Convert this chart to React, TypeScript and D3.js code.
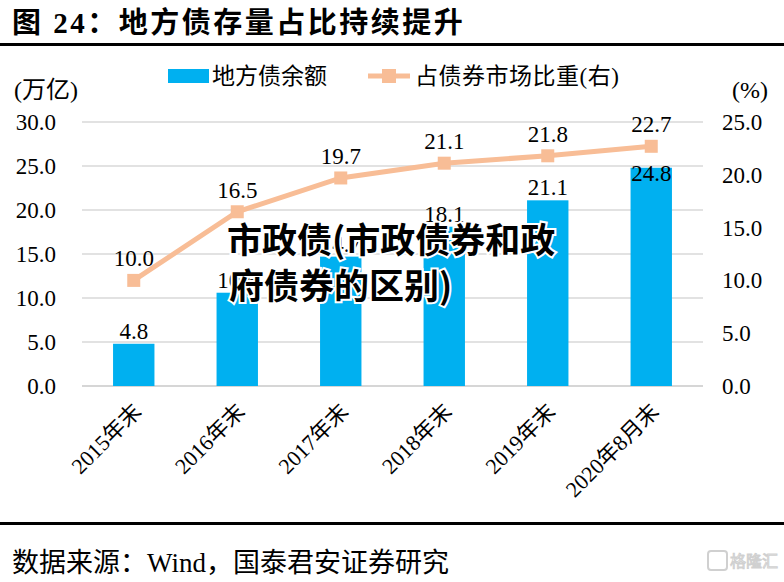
import * as d3 from "d3";
import React from "react";

const categories = ["2015年末", "2016年末", "2017年末", "2018年末", "2019年末", "2020年8月末"];
const balance = [4.8, 10.6, 14.7, 18.1, 21.1, 24.8];
const share = [10.0, 16.5, 19.7, 21.1, 21.8, 22.7];
const leftTicks = [0, 5, 10, 15, 20, 25, 30];
const rightTicks = [0, 5, 10, 15, 20, 25];

const BLUE = "#00B0F0";
const ORANGE = "#F8BD96";
const GRID = "#D9D9D9";
const SERIF = "'Liberation Serif', 'Noto Sans CJK SC', serif";

function App() {
    const x = d3.scaleBand<string>().domain(categories).range([82, 703]).paddingInner(0.6).paddingOuter(0.3);
    const yL = d3.scaleLinear().domain([0, 30]).range([386, 122]);
    const yR = d3.scaleLinear().domain([0, 25]).range([386, 122]);
    const cx = (c: string) => (x(c) ?? 0) + x.bandwidth() / 2;
    const fmt = d3.format(".1f");

    const line = d3.line<number>()
        .x((d, i) => cx(categories[i]))
        .y((d) => yR(d));

    return (
        <div style={{ position: "fixed", left: 0, top: 0 }}>
            <svg width={784} height={582} style={{ display: "block", background: "#fff" }}>
                {/* title */}
                <text x={12} y={33} fontFamily={SERIF} fontSize={29} fontWeight="bold" letterSpacing={2.5}>
                    图 24：地方债存量占比持续提升
                </text>
                <rect x={0} y={43} width={784} height={3} fill="#000" />

                {/* legend + units */}
                <rect x={168} y={69} width={41} height={14} fill={BLUE} />
                <text x={212} y={76} dy="0.35em" fontFamily={SERIF} fontSize={23}>地方债余额</text>
                <line x1={368} x2={410} y1={76} y2={76} stroke={ORANGE} strokeWidth={5} />
                <rect x={382} y={69} width={14} height={14} fill={ORANGE} />
                <text x={415} y={76} dy="0.35em" fontFamily={SERIF} fontSize={23} letterSpacing={0.5}>占债券市场比重(右)</text>
                <text x={14} y={90} dy="0.35em" fontFamily={SERIF} fontSize={24}>(万亿)</text>
                <text x={768} y={90} dy="0.35em" textAnchor="end" fontFamily={SERIF} fontSize={24}>(%)</text>

                {/* grid */}
                {leftTicks.map((t) => (
                    <line key={t} x1={82} x2={703} y1={yL(t)} y2={yL(t)} stroke={t === 0 ? "#C8C8C8" : GRID} strokeWidth={1.5} />
                ))}
                {leftTicks.map((t) => (
                    <text key={t} x={56} y={yL(t)} dy="0.35em" textAnchor="end" fontFamily={SERIF} fontSize={23}>{fmt(t)}</text>
                ))}
                {rightTicks.map((t) => (
                    <text key={t} x={722} y={yR(t)} dy="0.35em" fontFamily={SERIF} fontSize={23}>{fmt(t)}</text>
                ))}

                {/* bars */}
                {balance.map((v, i) => (
                    <rect key={i} x={x(categories[i])} y={yL(v)} width={x.bandwidth()} height={yL(0) - yL(v)} fill={BLUE} />
                ))}

                {/* line */}
                <path d={line(share) ?? ""} fill="none" stroke={ORANGE} strokeWidth={5} />
                {share.map((v, i) => (
                    <rect key={i} x={cx(categories[i]) - 6.5} y={yR(v) - 6.5} width={13} height={13} fill={ORANGE} />
                ))}

                {/* labels */}
                {balance.map((v, i) => {
                    // keep bar label clear of the line label above it
                    const ly = Math.max(yL(v) - 13, yR(share[i]) + 27);
                    return (
                        <text key={i} x={cx(categories[i])} y={ly} dy="0.35em" textAnchor="middle" fontFamily={SERIF} fontSize={23}>{fmt(v)}</text>
                    );
                })}
                {share.map((v, i) => (
                    <text key={i} x={cx(categories[i])} y={yR(v) - 22} dy="0.35em" textAnchor="middle" fontFamily={SERIF} fontSize={23}>{fmt(v)}</text>
                ))}

                {/* x labels */}
                {categories.map((c) => (
                    <text key={c} transform={`translate(${cx(c) + 9},413) rotate(-45)`} textAnchor="end" fontFamily={SERIF} fontSize={22}>{c}</text>
                ))}

                {/* overlay text */}
                <g fontFamily="'Noto Sans CJK SC', sans-serif" fontWeight="bold" fontSize={35} fill="#000" stroke="#fff" strokeWidth={4} style={{ paintOrder: "stroke" }}>
                    <text x={227} y={253}>市政债(市政债券和政</text>
                    <text x={229} y={299}>府债券的区别)</text>
                </g>

                {/* footer */}
                <rect x={0} y={522} width={784} height={3} fill="#000" />
                <text x={12} y={572} fontFamily={SERIF} fontSize={27}>数据来源：Wind，国泰君安证券研究</text>
                <g opacity={0.45}>
                    <rect x={708} y={551} width={19} height={19} rx={3} fill="none" stroke="#999" strokeWidth={2} />
                    <text x={730} y={567} fontFamily="'Noto Sans CJK SC', sans-serif" fontSize={16} fill="#fff" stroke="#999" strokeWidth={1}>格隆汇</text>
                </g>
            </svg>
        </div>
    );
}

export default App;
